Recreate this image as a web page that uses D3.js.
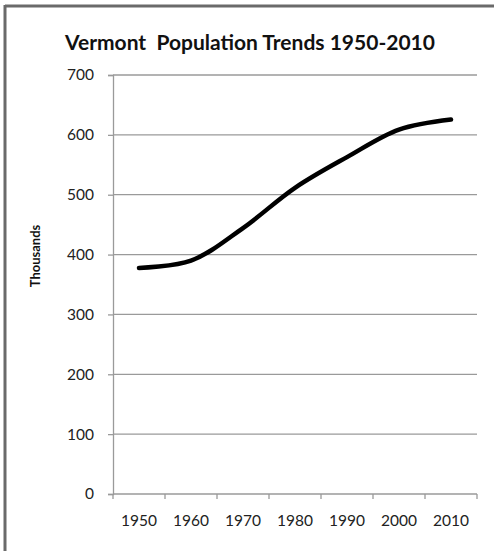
<!DOCTYPE html>
<html>
<head>
<meta charset="utf-8">
<script src="https://cdn.jsdelivr.net/npm/d3@7"></script>
<style>
  html, body { margin: 0; padding: 0; background: #fff; }
  svg { display: block; }
</style>
</head>
<body>
<svg id="chart" width="494" height="551"></svg>
<script>
const years = ["1950", "1960", "1970", "1980", "1990", "2000", "2010"];
const population = [377.7, 389.9, 444.3, 511.5, 562.8, 608.8, 625.7];
const yTicks = [0, 100, 200, 300, 400, 500, 600, 700];
const title = "Vermont  Population Trends 1950-2010";
const yLabel = "Thousands";

const svg = d3.select("#chart");
const W = 494, H = 551;
const m = { left: 113, right: 17, top: 75, bottom: 57 };

// frame (top and left edges)
svg.append("line").attr("x1", 5).attr("x2", W).attr("y1", 6).attr("y2", 6)
  .attr("stroke", "#6a6a6a").attr("stroke-width", 3);
svg.append("line").attr("x1", 5).attr("x2", 5).attr("y1", 5).attr("y2", H)
  .attr("stroke", "#6a6a6a").attr("stroke-width", 3);

const x = d3.scaleBand().domain(years).range([m.left, W - m.right]).padding(0);
const y = d3.scaleLinear().domain([0, 700]).range([H - m.bottom, m.top]);

// gridlines
svg.append("g").selectAll("line").data(yTicks.filter(d => d > 0)).join("line")
  .attr("x1", m.left).attr("x2", W - m.right)
  .attr("y1", d => y(d)).attr("y2", d => y(d))
  .attr("stroke", "#9a9a9a").attr("stroke-width", 1.3);

const tickFont = "Lato, 'Open Sans', sans-serif";

// y axis
const yAxis = svg.append("g").attr("transform", `translate(${m.left},0)`)
  .call(d3.axisLeft(y).tickValues(yTicks).tickSize(5).tickPadding(14).tickFormat(d3.format("d")));
yAxis.select(".domain").attr("stroke", "#9a9a9a").attr("stroke-width", 1.3);
yAxis.selectAll(".tick line").attr("stroke", "#9a9a9a").attr("stroke-width", 1.3);
yAxis.selectAll("text").attr("font-family", tickFont)
  .attr("font-size", 15.5).attr("fill", "#222");

// x axis
const xAxis = svg.append("g").attr("transform", `translate(0,${H - m.bottom})`)
  .call(d3.axisBottom(x).tickSize(0).tickPadding(21));
xAxis.select(".domain").remove();
xAxis.selectAll("text").attr("font-family", tickFont)
  .attr("font-size", 15.5).attr("fill", "#222");
// x axis line and category boundary ticks
svg.append("line").attr("x1", m.left).attr("x2", W - m.right)
  .attr("y1", y(0)).attr("y2", y(0)).attr("stroke", "#9a9a9a").attr("stroke-width", 1.3);
const bounds = years.map(d => x(d)).concat([x(years[years.length - 1]) + x.bandwidth()]);
svg.append("g").selectAll("line").data(bounds).join("line")
  .attr("x1", d => d).attr("x2", d => d)
  .attr("y1", y(0)).attr("y2", y(0) + 5)
  .attr("stroke", "#9a9a9a").attr("stroke-width", 1.3);

// line
const line = d3.line()
  .x((d, i) => x(years[i]) + x.bandwidth() / 2)
  .y(d => y(d))
  .curve(d3.curveCatmullRom.alpha(0.5));
svg.append("path").datum(population)
  .attr("d", line).attr("fill", "none").attr("stroke", "#000")
  .attr("stroke-width", 4.5).attr("stroke-linecap", "round");

// title
svg.append("text").attr("x", 250).attr("y", 50).attr("text-anchor", "middle")
  .attr("font-family", "Lato, 'Open Sans', sans-serif").attr("font-weight", "bold")
  .attr("font-size", 21).attr("fill", "#111").attr("xml:space", "preserve")
  .style("white-space", "pre").text(title);

// y label
svg.append("text").attr("transform", "translate(40,256) rotate(-90)")
  .attr("text-anchor", "middle")
  .attr("font-family", "Lato, 'Open Sans', sans-serif").attr("font-weight", "bold")
  .attr("font-size", 13).attr("fill", "#111").text(yLabel);
</script>
</body>
</html>
